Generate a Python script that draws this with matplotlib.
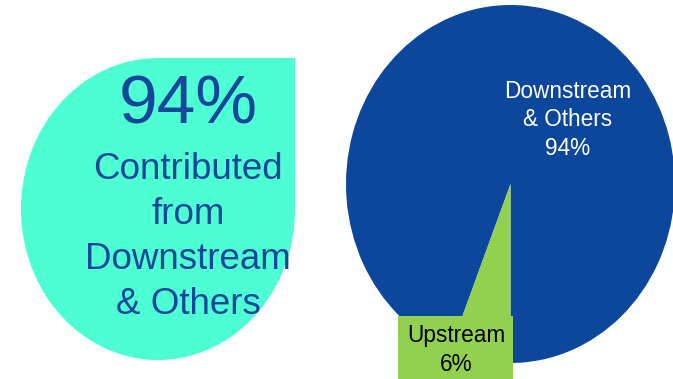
import matplotlib.pyplot as plt
import numpy as np
from matplotlib.patches import Polygon, Rectangle

plt.rcParams['font.family'] = ['Liberation Sans', 'DejaVu Sans']

# data
labels = ['Downstream\n& Others', 'Upstream']
values = [94, 6]
colors = ['#0C479C', '#92D050']
headline = '94%'
headline_text = 'Contributed\nfrom\nDownstream\n& Others'

W, H = 673, 379
fig = plt.figure(figsize=(W / 100, H / 100), dpi=100, facecolor='w')

# pie (stretched a bit, like the original slide)
px0, py0, px1, py1 = 346, 5, 675, 363
axp = fig.add_axes([px0 / W, 1 - py1 / H, (px1 - px0) / W, (py1 - py0) / H])
axp.pie(values, colors=colors, startangle=-90, radius=1,
        wedgeprops=dict(linewidth=0))
axp.set_aspect('auto')
axp.set_xlim(-1, 1)
axp.set_ylim(-1, 1)
axp.axis('off')

# overlay in pixel coords
ax = fig.add_axes([0, 0, 1, 1])
ax.set_xlim(0, W)
ax.set_ylim(H, 0)
ax.axis('off')

# left teardrop shape
cx, cy, a, b = 158, 209, 137, 151
th = np.linspace(np.pi / 2, 2 * np.pi, 200)
pts = np.column_stack([cx + a * np.cos(th), cy - b * np.sin(th)])
pts = np.vstack([pts, [[cx + a, cy - b]]])
ax.add_patch(Polygon(pts, closed=True, facecolor='#4DFFD3', edgecolor='none'))

txtcol = '#17479A'
ax.text(188, 106, headline, fontsize=50, color=txtcol, ha='center', va='center')
ax.text(188, 237, headline_text, fontsize=26.5, color=txtcol, ha='center',
        va='center', linespacing=1.37)

# pie labels
ax.text(568, 120, f'{labels[0]}\n{values[0]}%', fontsize=16.3, color='white',
        ha='center', va='center', linespacing=1.3)
ax.add_patch(Rectangle((398, 316), 115, 70, facecolor=colors[1], edgecolor='none'))
ax.text(456, 350, f'{labels[1]}\n{values[1]}%', fontsize=16.3, color='black',
        ha='center', va='center', linespacing=1.3)

fig.savefig('out.png', dpi=100)
